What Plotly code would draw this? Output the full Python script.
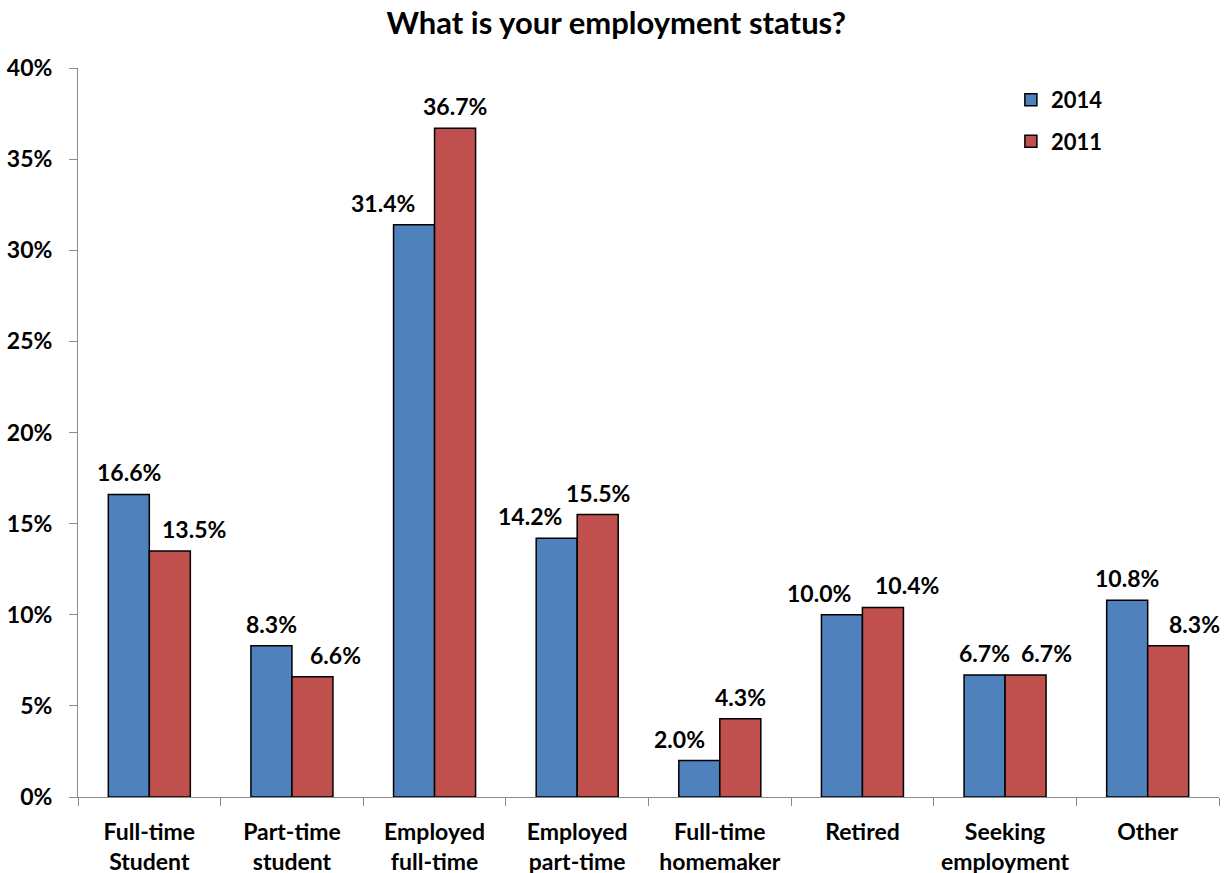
import plotly.graph_objects as go

# Survey responses (% of respondents)
categories = [
    "Full-time<br>Student",
    "Part-time<br>student",
    "Employed<br>full-time",
    "Employed<br>part-time",
    "Full-time<br>homemaker",
    "Retired",
    "Seeking<br>employment",
    "Other",
]
values_2014 = [16.6, 8.3, 31.4, 14.2, 2.0, 10.0, 6.7, 10.8]
values_2011 = [13.5, 6.6, 36.7, 15.5, 4.3, 10.4, 6.7, 8.3]
y_ticks = [0, 5, 10, 15, 20, 25, 30, 35, 40]
y_tick_labels = ["0%", "5%", "10%", "15%", "20%", "25%", "30%", "35%", "40%"]

# horizontal nudges (px) for value labels so they clear the neighbouring bar
nudge_2014 = [0, 0, -31, -27, -20, -23, 0, 0]
nudge_2011 = [24, 23, 0, 0, 0, 24, 21, 26]

BLUE = "#4F81BD"
RED = "#C0504D"
FONT = "Lato"
BARGAP = 0.425
TEXT_SIZE = 23

fig = go.Figure()
fig.add_trace(go.Bar(
    name="2014", x=categories, y=values_2014,
    marker=dict(color=BLUE, line=dict(color="#000000", width=1.5)),
    legendgroup="a",
))
fig.add_trace(go.Bar(
    name="2011", x=categories, y=values_2011,
    marker=dict(color=RED, line=dict(color="#000000", width=1.5)),
    legendgroup="b",
))

bar_w = (1 - BARGAP) / 2
annotations = []
for series, offset, nudges in (
    (values_2014, -bar_w / 2, nudge_2014),
    (values_2011, bar_w / 2, nudge_2011),
):
    for i, (v, dx) in enumerate(zip(series, nudges)):
        annotations.append(dict(
            x=i + offset, y=v, xref="x", yref="y",
            text=f"{v:.1f}%", showarrow=False,
            xanchor="center", yanchor="bottom",
            xshift=dx, yshift=6,
            font=dict(family=FONT, size=TEXT_SIZE, color="#000000", weight=700),
        ))

fig.update_layout(
    width=1225, height=873,
    paper_bgcolor="white", plot_bgcolor="white",
    margin=dict(l=78, r=6, t=68, b=76),
    barmode="group", bargap=BARGAP, bargroupgap=0,
    title=dict(
        text="What is your employment status?",
        x=0.503, xref="container", xanchor="center",
        y=1 - 23 / 873, yref="container", yanchor="middle",
        font=dict(family=FONT, size=31, color="#000000", weight=700),
    ),
    legend=dict(
        x=0.8176, y=0.985, xanchor="left", yanchor="top",
        font=dict(family=FONT, size=22, color="#000000", weight=700),
        tracegroupgap=10, bgcolor="rgba(0,0,0,0)",
    ),
    annotations=annotations,
    font=dict(family=FONT, color="#000000"),
)

fig.update_xaxes(
    type="category", tickson="boundaries",
    range=[-0.5, len(categories) - 0.5],
    showline=True, linecolor="#8c8c8c", linewidth=1,
    ticks="outside", ticklen=8, tickcolor="#8c8c8c",
    ticklabelstandoff=14, automargin=False,
    showgrid=False, zeroline=False,
    tickfont=dict(family=FONT, size=TEXT_SIZE, color="#000000", weight=700),
)

fig.update_yaxes(
    range=[0, 40], tickmode="array", tickvals=y_ticks, ticktext=y_tick_labels,
    showline=True, linecolor="#8c8c8c", linewidth=1,
    ticks="outside", ticklen=8, tickcolor="#8c8c8c",
    ticklabelstandoff=12, automargin=False,
    showgrid=False, zeroline=False,
    tickfont=dict(family=FONT, size=TEXT_SIZE, color="#000000", weight=700),
)

fig.write_html("out.html")
